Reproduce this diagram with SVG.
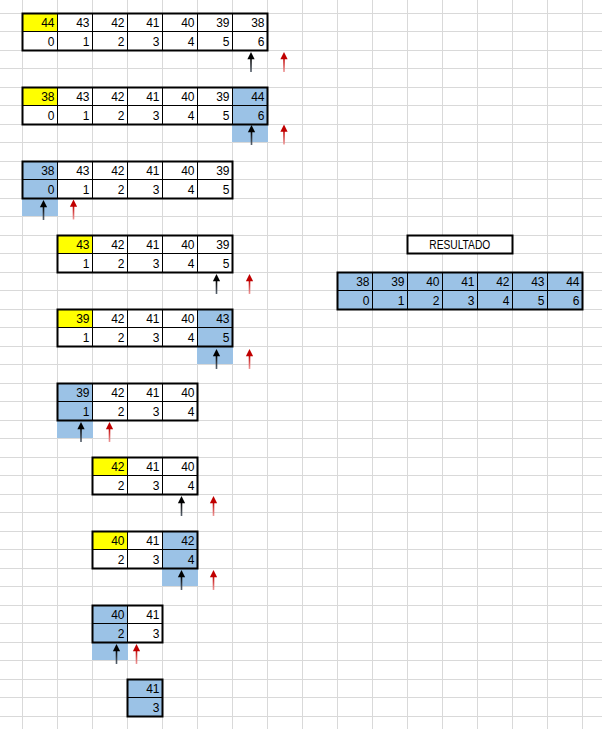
<svg xmlns="http://www.w3.org/2000/svg" xmlns:xlink="http://www.w3.org/1999/xlink" width="602" height="729" viewBox="0 0 602 729">
<style>
.grid{stroke:#D9D9D9;stroke-width:1;fill:none}
.in{stroke:#000;stroke-width:1;fill:none}
.out{stroke:#000;stroke-width:2;fill:none}
.y{fill:#FFFF00}
.b{fill:#9BC2E6}
text{font-family:"Liberation Sans",Arial,sans-serif;font-size:12px;fill:#000;text-anchor:end}
</style>
<defs>
<linearGradient id="gk" x1="0" y1="0" x2="0" y2="1"><stop offset="0" stop-color="#000"/><stop offset="1" stop-color="#5a6470"/></linearGradient>
<linearGradient id="gr" x1="0" y1="0" x2="0" y2="1"><stop offset="0" stop-color="#C00000"/><stop offset="1" stop-color="#EE9A9A"/></linearGradient>
<g id="ak"><rect x="-0.8" y="6" width="1.6" height="14" fill="url(#gk)"/><polygon points="0,0 3.6,7.2 -3.6,7.2" fill="#000"/></g>
<g id="ar"><rect x="-0.8" y="6" width="1.6" height="14" fill="url(#gr)"/><polygon points="0,0 3.6,7.2 -3.6,7.2" fill="#C00000"/></g>
</defs>
<rect width="602" height="729" fill="#fff"/>
<g id="grid" class="grid">
<path d="M22.5 0V729M57.5 0V729M92.5 0V729M127.5 0V729M162.5 0V729M197.5 0V729M232.5 0V729M267.5 0V729M302.5 0V729M337.5 0V729M372.5 0V729M407.5 0V729M442.5 0V729M477.5 0V729M512.5 0V729M547.5 0V729M582.5 0V729"/>
<path d="M0 13.5H602M0 31.5H602M0 50.5H602M0 68.5H602M0 87.5H602M0 105.5H602M0 124.5H602M0 142.5H602M0 161.5H602M0 179.5H602M0 198.5H602M0 216.5H602M0 235.5H602M0 253.5H602M0 272.5H602M0 290.5H602M0 309.5H602M0 327.5H602M0 346.5H602M0 364.5H602M0 383.5H602M0 401.5H602M0 420.5H602M0 438.5H602M0 457.5H602M0 475.5H602M0 494.5H602M0 512.5H602M0 531.5H602M0 549.5H602M0 568.5H602M0 586.5H602M0 605.5H602M0 623.5H602M0 642.5H602M0 660.5H602M0 679.5H602M0 697.5H602M0 716.5H602"/>
</g>

<g id="t1">
<rect class="y" x="22" y="13" width="35" height="18"/>
<path class="in" d="M57.5 13.5V50.5M92.5 13.5V50.5M127.5 13.5V50.5M162.5 13.5V50.5M197.5 13.5V50.5M232.5 13.5V50.5M22.5 31.5H267.5"/>
<rect class="out" x="22.5" y="13.5" width="245" height="37"/>
<text x="54.5" y="26.5">44</text><text x="89.5" y="26.5">43</text><text x="124.5" y="26.5">42</text><text x="159.5" y="26.5">41</text><text x="194.5" y="26.5">40</text><text x="229.5" y="26.5">39</text><text x="264.5" y="26.5">38</text>
<text x="54.5" y="45.5">0</text><text x="89.5" y="45.5">1</text><text x="124.5" y="45.5">2</text><text x="159.5" y="45.5">3</text><text x="194.5" y="45.5">4</text><text x="229.5" y="45.5">5</text><text x="264.5" y="45.5">6</text>
</g>

<g id="t2">
<rect class="y" x="22" y="87" width="35" height="18"/>
<rect class="b" x="232" y="87" width="35" height="37"/>
<rect class="b" x="232" y="124" width="36" height="18"/>
<path class="in" d="M57.5 87.5V124.5M92.5 87.5V124.5M127.5 87.5V124.5M162.5 87.5V124.5M197.5 87.5V124.5M232.5 87.5V124.5M22.5 105.5H267.5"/>
<rect class="out" x="22.5" y="87.5" width="245" height="37"/>
<text x="54.5" y="100.5">38</text><text x="89.5" y="100.5">43</text><text x="124.5" y="100.5">42</text><text x="159.5" y="100.5">41</text><text x="194.5" y="100.5">40</text><text x="229.5" y="100.5">39</text><text x="264.5" y="100.5">44</text>
<text x="54.5" y="119.5">0</text><text x="89.5" y="119.5">1</text><text x="124.5" y="119.5">2</text><text x="159.5" y="119.5">3</text><text x="194.5" y="119.5">4</text><text x="229.5" y="119.5">5</text><text x="264.5" y="119.5">6</text>
</g>

<g id="t3">
<rect class="b" x="22" y="161" width="35" height="37"/>
<rect class="b" x="22" y="198" width="36" height="18"/>
<path class="in" d="M57.5 161.5V198.5M92.5 161.5V198.5M127.5 161.5V198.5M162.5 161.5V198.5M197.5 161.5V198.5M22.5 179.5H232.5"/>
<rect class="out" x="22.5" y="161.5" width="210" height="37"/>
<text x="54.5" y="174.5">38</text><text x="89.5" y="174.5">43</text><text x="124.5" y="174.5">42</text><text x="159.5" y="174.5">41</text><text x="194.5" y="174.5">40</text><text x="229.5" y="174.5">39</text>
<text x="54.5" y="193.5">0</text><text x="89.5" y="193.5">1</text><text x="124.5" y="193.5">2</text><text x="159.5" y="193.5">3</text><text x="194.5" y="193.5">4</text><text x="229.5" y="193.5">5</text>
</g>

<g id="t4">
<rect class="y" x="57" y="235" width="35" height="18"/>
<path class="in" d="M92.5 235.5V272.5M127.5 235.5V272.5M162.5 235.5V272.5M197.5 235.5V272.5M57.5 253.5H232.5"/>
<rect class="out" x="57.5" y="235.5" width="175" height="37"/>
<text x="89.5" y="248.5">43</text><text x="124.5" y="248.5">42</text><text x="159.5" y="248.5">41</text><text x="194.5" y="248.5">40</text><text x="229.5" y="248.5">39</text>
<text x="89.5" y="267.5">1</text><text x="124.5" y="267.5">2</text><text x="159.5" y="267.5">3</text><text x="194.5" y="267.5">4</text><text x="229.5" y="267.5">5</text>
</g>

<g id="t5">
<rect class="y" x="57" y="309" width="35" height="18"/>
<rect class="b" x="197" y="309" width="35" height="37"/>
<rect class="b" x="197" y="346" width="36" height="18"/>
<path class="in" d="M92.5 309.5V346.5M127.5 309.5V346.5M162.5 309.5V346.5M197.5 309.5V346.5M57.5 327.5H232.5"/>
<rect class="out" x="57.5" y="309.5" width="175" height="37"/>
<text x="89.5" y="322.5">39</text><text x="124.5" y="322.5">42</text><text x="159.5" y="322.5">41</text><text x="194.5" y="322.5">40</text><text x="229.5" y="322.5">43</text>
<text x="89.5" y="341.5">1</text><text x="124.5" y="341.5">2</text><text x="159.5" y="341.5">3</text><text x="194.5" y="341.5">4</text><text x="229.5" y="341.5">5</text>
</g>

<g id="t6">
<rect class="b" x="57" y="383" width="35" height="37"/>
<rect class="b" x="57" y="420" width="36" height="18"/>
<path class="in" d="M92.5 383.5V420.5M127.5 383.5V420.5M162.5 383.5V420.5M57.5 401.5H197.5"/>
<rect class="out" x="57.5" y="383.5" width="140" height="37"/>
<text x="89.5" y="396.5">39</text><text x="124.5" y="396.5">42</text><text x="159.5" y="396.5">41</text><text x="194.5" y="396.5">40</text>
<text x="89.5" y="415.5">1</text><text x="124.5" y="415.5">2</text><text x="159.5" y="415.5">3</text><text x="194.5" y="415.5">4</text>
</g>

<g id="t7">
<rect class="y" x="92" y="457" width="35" height="18"/>
<path class="in" d="M127.5 457.5V494.5M162.5 457.5V494.5M92.5 475.5H197.5"/>
<rect class="out" x="92.5" y="457.5" width="105" height="37"/>
<text x="124.5" y="470.5">42</text><text x="159.5" y="470.5">41</text><text x="194.5" y="470.5">40</text>
<text x="124.5" y="489.5">2</text><text x="159.5" y="489.5">3</text><text x="194.5" y="489.5">4</text>
</g>

<g id="t8">
<rect class="y" x="92" y="531" width="35" height="18"/>
<rect class="b" x="162" y="531" width="35" height="37"/>
<rect class="b" x="162" y="568" width="36" height="18"/>
<path class="in" d="M127.5 531.5V568.5M162.5 531.5V568.5M92.5 549.5H197.5"/>
<rect class="out" x="92.5" y="531.5" width="105" height="37"/>
<text x="124.5" y="544.5">40</text><text x="159.5" y="544.5">41</text><text x="194.5" y="544.5">42</text>
<text x="124.5" y="563.5">2</text><text x="159.5" y="563.5">3</text><text x="194.5" y="563.5">4</text>
</g>

<g id="t9">
<rect class="b" x="92" y="605" width="35" height="37"/>
<rect class="b" x="92" y="642" width="36" height="18"/>
<path class="in" d="M127.5 605.5V642.5M92.5 623.5H162.5"/>
<rect class="out" x="92.5" y="605.5" width="70" height="37"/>
<text x="124.5" y="618.5">40</text><text x="159.5" y="618.5">41</text>
<text x="124.5" y="637.5">2</text><text x="159.5" y="637.5">3</text>
</g>

<g id="t10">
<rect class="b" x="127" y="679" width="35" height="37"/>
<path class="in" d="M127.5 697.5H162.5"/>
<rect class="out" x="127.5" y="679.5" width="35" height="37"/>
<text x="159.5" y="692.5">41</text>
<text x="159.5" y="711.5">3</text>
</g>

<g id="resultado">
<rect x="407.5" y="235.5" width="105" height="18" fill="#fff" stroke="#000" stroke-width="2"/>
<text x="459.75" y="248.5" style="text-anchor:middle" textLength="61" lengthAdjust="spacingAndGlyphs">RESULTADO</text>
</g>

<g id="result">
<rect class="b" x="337" y="272" width="245" height="37"/>
<path class="in" d="M372.5 272.5V309.5M407.5 272.5V309.5M442.5 272.5V309.5M477.5 272.5V309.5M512.5 272.5V309.5M547.5 272.5V309.5M337.5 290.5H582.5"/>
<rect class="out" x="337.5" y="272.5" width="245" height="37"/>
<text x="369.5" y="285.5">38</text><text x="404.5" y="285.5">39</text><text x="439.5" y="285.5">40</text><text x="474.5" y="285.5">41</text><text x="509.5" y="285.5">42</text><text x="544.5" y="285.5">43</text><text x="579.5" y="285.5">44</text>
<text x="369.5" y="304.5">0</text><text x="404.5" y="304.5">1</text><text x="439.5" y="304.5">2</text><text x="474.5" y="304.5">3</text><text x="509.5" y="304.5">4</text><text x="544.5" y="304.5">5</text><text x="579.5" y="304.5">6</text>
</g>

<g id="arrows">
<use href="#ak" x="251" y="52"/><use href="#ar" x="284" y="52"/>
<use href="#ak" x="251.5" y="125"/><use href="#ar" x="284" y="124.5"/>
<use href="#ak" x="43.5" y="200"/><use href="#ar" x="73.5" y="199.5"/>
<use href="#ak" x="216.5" y="274"/><use href="#ar" x="249.5" y="274"/>
<use href="#ak" x="216.5" y="349"/><use href="#ar" x="249.5" y="349"/>
<use href="#ak" x="81" y="422"/><use href="#ar" x="109.5" y="422"/>
<use href="#ak" x="181.5" y="496"/><use href="#ar" x="213.5" y="496"/>
<use href="#ak" x="181.5" y="570"/><use href="#ar" x="213.5" y="570"/>
<use href="#ak" x="116.5" y="644"/><use href="#ar" x="136.5" y="644"/>
</g>
</svg>
